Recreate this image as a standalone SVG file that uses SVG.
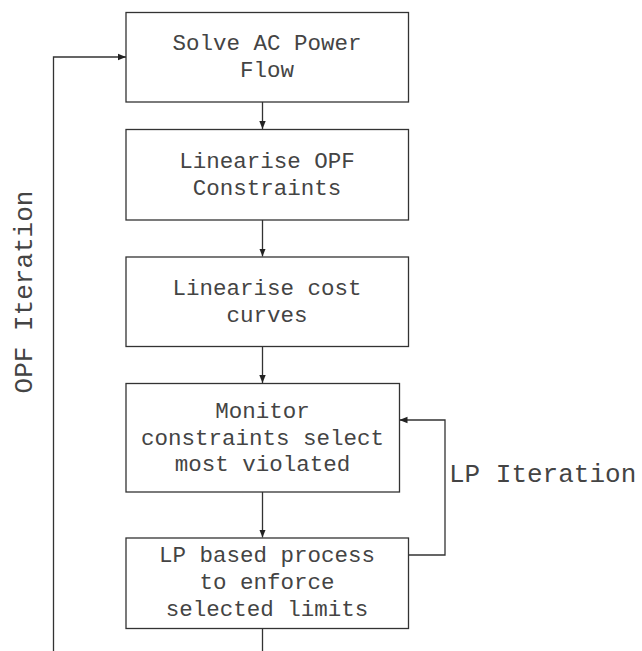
<svg xmlns="http://www.w3.org/2000/svg" width="642" height="651" viewBox="0 0 642 651">
<style>
.box{fill:#fff;stroke:#333;stroke-width:1.3}
.t{font-family:"Liberation Mono","Courier New",monospace;font-size:22.5px;fill:#444;text-anchor:middle}
.lbl{font-family:"Liberation Mono","Courier New",monospace;font-size:26px;fill:#444}
.c{fill:none;stroke:#333;stroke-width:1.3}
</style>
<defs>
<marker id="arr" viewBox="0 0 10 10" refX="10" refY="5" markerWidth="8" markerHeight="8" markerUnits="userSpaceOnUse" orient="auto">
<path d="M0,1 L10,5 L0,9 z" fill="#222"/>
</marker>
</defs>
<rect width="642" height="651" fill="#fff"/>
<g id="connectors">
<line class="c" x1="262.5" y1="102" x2="262.5" y2="129" marker-end="url(#arr)"/>
<line class="c" x1="262.5" y1="220" x2="262.5" y2="256.5" marker-end="url(#arr)"/>
<line class="c" x1="262.5" y1="346.5" x2="262.5" y2="383" marker-end="url(#arr)"/>
<line class="c" x1="262.5" y1="492" x2="262.5" y2="537.5" marker-end="url(#arr)"/>
<polyline class="c" points="408.5,555 445,555 445,420 399.5,420" marker-end="url(#arr)"/>
<line class="c" x1="262.5" y1="628.5" x2="262.5" y2="651"/>
<polyline class="c" points="53.5,651 53.5,57 126,57" marker-end="url(#arr)"/>
</g>
<g id="n1">
<rect class="box" x="126" y="12.5" width="282.5" height="89.5"/>
<text class="t" x="267" y="50">Solve AC Power</text>
<text class="t" x="267" y="77">Flow</text>
</g>
<g id="n2">
<rect class="box" x="126" y="129.5" width="282.5" height="90.5"/>
<text class="t" x="267" y="168">Linearise OPF</text>
<text class="t" x="267" y="195">Constraints</text>
</g>
<g id="n3">
<rect class="box" x="126" y="257" width="282.5" height="89.5"/>
<text class="t" x="267" y="295">Linearise cost</text>
<text class="t" x="267" y="322">curves</text>
</g>
<g id="n4">
<rect class="box" x="126" y="383.5" width="273.5" height="108.5"/>
<text class="t" x="262.5" y="418">Monitor</text>
<text class="t" x="262.5" y="444.5">constraints select</text>
<text class="t" x="262.5" y="471">most violated</text>
</g>
<g id="n5">
<rect class="box" x="126" y="538" width="282.5" height="90.5"/>
<text class="t" x="267" y="562">LP based process</text>
<text class="t" x="267" y="588.5">to enforce</text>
<text class="t" x="267" y="615.5">selected limits</text>
</g>
<g id="labels">
<text class="lbl" x="449" y="482">LP Iteration</text>
<text class="lbl" transform="translate(32,292) rotate(-90)" text-anchor="middle">OPF Iteration</text>
</g>
</svg>
